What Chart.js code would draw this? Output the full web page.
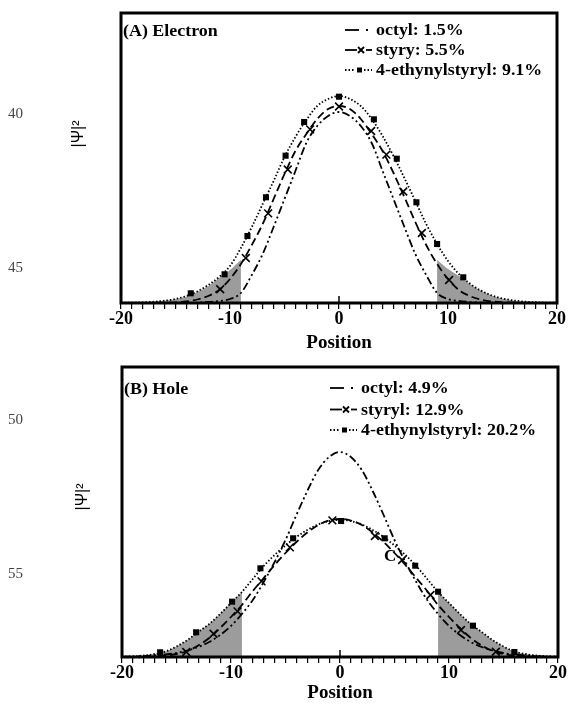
<!DOCTYPE html>
<html>
<head>
<meta charset="utf-8">
<script src="https://cdn.jsdelivr.net/npm/chart.js@4.4.0/dist/chart.umd.min.js"></script>
<style>
  body { margin: 0; background: #fff; width: 572px; height: 707px; position: relative; overflow: hidden; }
  .box { position: absolute; left: 0; width: 572px; }
  #boxA { top: 0; height: 353px; }
  #boxB { top: 353px; height: 354px; }
  .lineno { position: absolute; left: 8px; font: 15px "Liberation Serif"; line-height: 15px; color: #444; }
  .ylab { position: absolute; font: 16px "Liberation Sans"; color: #000; white-space: nowrap;
          transform: translate(-50%, -50%) rotate(-90deg); }
</style>
</head>
<body>
<div class="box" id="boxA"><canvas id="chartA"></canvas></div>
<div class="box" id="boxB"><canvas id="chartB"></canvas></div>
<div class="lineno" style="top:106px">40</div>
<div class="lineno" style="top:260px">45</div>
<div class="lineno" style="top:412px">50</div>
<div class="lineno" style="top:566px">55</div>
<div class="ylab" style="left:78px; top:134px">|Ψ|²</div>
<div class="ylab" style="left:82px; top:497px">|Ψ|²</div>
<script>
// Posições (eixo x)
const positions = [-20,-19,-18,-17,-16,-15,-14,-13,-12,-11,-10,-9,-8,-7,-6,-5,-4,-3,-2,-1,0,
                   1,2,3,4,5,6,7,8,9,10,11,12,13,14,15,16,17,18,19,20];

// (A) Electron - |Psi|^2 (unidades arbitrárias, 0..290)
const octylA   = [0,0,0,0,0,0,0,0.3,1,2,4,10,28,49,76,104,132,160,177,187,191,
                  187,177,160,132,104,76,49,28,10,4,2,1,0.3,0,0,0,0,0,0,0];
const styrylA  = [0,0,0,0.1,0.3,0.7,1.6,3.5,7,13,24,39,58,79,104,129,152,169,184,194,197,
                  194,184,169,152,130,106,81,58,39,24,13,7,3.5,1.6,0.7,0.3,0.1,0,0,0];
const ethynylA = [0.2,0.4,0.7,1.3,2.3,4,7,11.5,18,26,37,55,76,99,122,146,166,183,197,204,207,
                  204,197,184,167,147,125,102,79,59,42,29,19.5,12.5,7.6,4.5,2.6,1.4,0.8,0.4,0.2];
const shadeA   = [0.1,0.3,0.7,1.2,2.2,4,6.5,11,17,25,33,43,
                  null,null,null,null,null,null,null,null,null,null,null,null,null,null,null,null,null,
                  43,34,27,19,12.5,7.6,4.5,2.6,1.4,0.8,0.4,0.2];
const styMarkXA = [-10.9,-8.55,-6.5,-4.7,-2.65,0,2.95,4.35,5.9,7.6,10.1];
const styMarkYA = [13.7,45,89.6,133.5,173.6,196.5,172,148.4,111.5,70,23];
const ethMarkXA = [-13.6,-10.5,-8.4,-6.7,-4.9,-3.2,0,3.2,5.3,7.1,9.0,11.4];
const ethMarkYA = [9.7,28.7,67,105.7,147.3,181,206.3,183.7,144.3,100.7,59,25.7];
const legendA = ['octyl: 1.5%', 'styry: 5.5%', '4-ethynylstyryl: 9.1%'];

// (B) Hole
const octylB   = [0.2,0.4,0.8,1.5,2.5,4,6.5,10,15,22,31,43,57,75,95,117,142,166,187,200,205,
                  200,187,166,142,117,95,75,57,43,31,22,15,10,6.5,4,2.5,1.5,0.8,0.4,0.2];
const styrylB  = [0,0.1,0.3,0.7,1.5,3,6,11.5,19,29,40,52,66,79,92,104,115,124.5,132,136.5,138,
                  136.5,132,124.5,115,104,92,79,66,52,40,29,19,11.5,6,3,1.5,0.7,0.3,0.1,0];
const ethynylB = [0.3,0.7,1.5,3,5.6,10.5,17,25,33,43,54,65,78,91,102,111.5,120,127,132.5,136,137,
                  136,132.5,127,120,111.5,102,91,78,65,54,43,33,25,17,10.5,5.6,3,1.5,0.7,0.3];
const styMarkXB = [-14.1,-11.6,-9.4,-7.2,-4.6,-0.7,3.2,5.7,8.3,11.1,14.3];
const styMarkYB = [5,23.3,45.6,75.6,109.6,136.6,121,97,62,27,5.3];
const ethMarkXB = [-16.5,-13.2,-9.9,-7.3,-4.3,0.1,4.1,6.9,9.0,12.2,16.0];
const ethMarkYB = [4.7,24.7,55.3,88.7,118.7,136,118.7,91.3,65.3,31.3,5];
const legendB = ['octyl: 4.9%', 'styryl: 12.9%', '4-ethynylstyryl: 20.2%'];
// região sombreada do painel B segue a curva 4-ethynylstyryl para |x| >= 9
const shadeB = positions.map((x, i) => Math.abs(x) >= 9 ? ethynylB[i] : null);

const SERIF = '"Liberation Serif", "Times New Roman", serif';
const SHADE = '#9c9c9c';
const LW = 1.8;

function pts(xs, ys) {
    return xs.map((x, i) => ({ x: x, y: ys[i] }));
}

function seg(ctx, x1, x2, y, dash) {
    ctx.setLineDash(dash);
    ctx.beginPath();
    ctx.moveTo(x1, y);
    ctx.lineTo(x2, y);
    ctx.stroke();
}

function stretchText(ctx, text, x, y, size) {
    ctx.save();
    ctx.translate(x, y);
    ctx.scale(1.12, 1);
    ctx.font = 'bold ' + size + 'px ' + SERIF;
    ctx.fillStyle = '#000';
    ctx.textBaseline = 'alphabetic';
    ctx.fillText(text, 0, 0);
    ctx.restore();
}

// amostras da legenda
function drawSample(ctx, kind, sx, y) {
    ctx.save();
    ctx.strokeStyle = '#000';
    ctx.fillStyle = '#000';
    ctx.lineWidth = LW;
    if (kind === 0) {
        seg(ctx, sx, sx + 14, y, []);
        seg(ctx, sx + 21, sx + 23, y, []);
    } else if (kind === 1) {
        seg(ctx, sx, sx + 12, y, []);
        ctx.setLineDash([]);
        ctx.beginPath();
        ctx.moveTo(sx + 13, y - 3); ctx.lineTo(sx + 19, y + 3);
        ctx.moveTo(sx + 13, y + 3); ctx.lineTo(sx + 19, y - 3);
        ctx.stroke();
        seg(ctx, sx + 21, sx + 27, y, []);
    } else {
        seg(ctx, sx, sx + 10, y, [1.5, 2]);
        ctx.fillRect(sx + 12, y - 2.5, 5, 5);
        seg(ctx, sx + 19, sx + 27, y, [1.5, 2]);
    }
    ctx.restore();
}

function makePanel(id, p) {
    const curve = vals => positions.map((x, i) => ({ x: x, y: vals[i] }));
    const shadeL = curve(p.shade).filter(pt => pt.x <= -9);
    const shadeR = curve(p.shade).filter(pt => pt.x >= 9);

    const framePlugin = {
        id: 'frame' + id,
        afterDraw(chart) {
            const ctx = chart.ctx;
            const a = chart.chartArea;
            const xs = chart.scales.x;
            const ys = chart.scales.y;
            ctx.save();
            ctx.strokeStyle = '#000';
            ctx.lineWidth = 1.5;
            const x0 = xs.getPixelForValue(0);
            ctx.beginPath();
            ctx.moveTo(x0, a.bottom);
            ctx.lineTo(x0, a.bottom - 7);
            ctx.stroke();
            ctx.lineWidth = 3;
            ctx.strokeRect(a.left, a.top, a.right - a.left, a.bottom - a.top);
            ctx.restore();

            stretchText(ctx, p.label, a.left + 2, p.rows[0] + 1, 16);
            p.legend.forEach((txt, i) => {
                drawSample(ctx, i, p.sampleX, p.rows[i] - 5);
                stretchText(ctx, txt, p.textX, p.rows[i], 16);
            });
            if (p.note) {
                ctx.save();
                ctx.font = 'bold 17px ' + SERIF;
                ctx.fillStyle = '#000';
                ctx.textAlign = 'center';
                ctx.textBaseline = 'middle';
                ctx.fillText(p.note.text, xs.getPixelForValue(p.note.x), ys.getPixelForValue(p.note.y));
                ctx.restore();
            }
        }
    };

    const shadeStyle = {
        fill: 'origin', backgroundColor: SHADE, borderWidth: 0, pointRadius: 0, order: 5, tension: 0.3
    };

    return new Chart(document.getElementById(id), {
        type: 'line',
        data: {
            datasets: [
                Object.assign({ data: shadeL }, shadeStyle),
                Object.assign({ data: shadeR }, shadeStyle),
                { data: curve(p.octyl), borderColor: '#000', borderWidth: LW,
                  borderDash: [8, 3, 2, 3, 2, 3], pointRadius: 0, fill: false },
                { data: curve(p.styryl), borderColor: '#000', borderWidth: LW,
                  borderDash: [8, 4], pointRadius: 0, fill: false },
                { data: curve(p.ethynyl), borderColor: '#000', borderWidth: LW,
                  borderDash: [1.5, 2], pointRadius: 0, fill: false },
                { data: pts(p.styMX, p.styMY), showLine: false, pointStyle: 'crossRot',
                  pointRadius: 5.5, pointBorderColor: '#000', pointBorderWidth: 1.6 },
                { data: pts(p.ethMX, p.ethMY), showLine: false, pointStyle: 'rect',
                  pointRadius: 4.3, pointBackgroundColor: '#000', pointBorderColor: '#000', pointBorderWidth: 0 }
            ]
        },
        options: {
            responsive: true,
            maintainAspectRatio: false,
            animation: false,
            layout: { padding: p.padding },
            elements: { line: { tension: 0.4, cubicInterpolationMode: 'monotone' } },
            plugins: { legend: { display: false }, tooltip: { enabled: false } },
            scales: {
                x: {
                    type: 'linear',
                    min: -20,
                    max: 20,
                    afterFit: function(s) {
                        s.height = p.axisHeight;
                        s.paddingLeft = 0;
                        s.paddingRight = 0;
                    },
                    ticks: {
                        stepSize: 1,
                        autoSkip: false,
                        maxRotation: 0,
                        padding: 1,
                        color: '#000',
                        font: { family: SERIF, size: 18, weight: 'bold', lineHeight: 1 },
                        callback: v => (v % 10 === 0 ? String(v) : '')
                    },
                    grid: { drawOnChartArea: false, tickLength: 6, color: '#000', lineWidth: 1.2 },
                    border: { display: false },
                    title: {
                        display: true,
                        text: 'Position',
                        color: '#000',
                        padding: 0,
                        font: { family: SERIF, size: 19, weight: 'bold', lineHeight: 1 }
                    }
                },
                y: { display: false, min: 0, max: 290 }
            }
        },
        plugins: [framePlugin]
    });
}

makePanel('chartA', {
    octyl: octylA, styryl: styrylA, ethynyl: ethynylA, shade: shadeA,
    styMX: styMarkXA, styMY: styMarkYA, ethMX: ethMarkXA, ethMY: ethMarkYA,
    label: '(A) Electron', legend: legendA,
    rows: [35, 55, 75], sampleX: 345, textX: 376,
    padding: { left: 121, right: 15, top: 13, bottom: 0 }, axisHeight: 50
});

makePanel('chartB', {
    octyl: octylB, styryl: styrylB, ethynyl: ethynylB, shade: shadeB,
    styMX: styMarkXB, styMY: styMarkYB, ethMX: ethMarkXB, ethMY: ethMarkYB,
    label: '(B) Hole', legend: legendB,
    rows: [40, 61.5, 82], sampleX: 330, textX: 361,
    note: { text: 'C', x: 4.6, y: 100 },
    padding: { left: 122, right: 14, top: 14, bottom: 4 }, axisHeight: 46
});
</script>
</body>
</html>
